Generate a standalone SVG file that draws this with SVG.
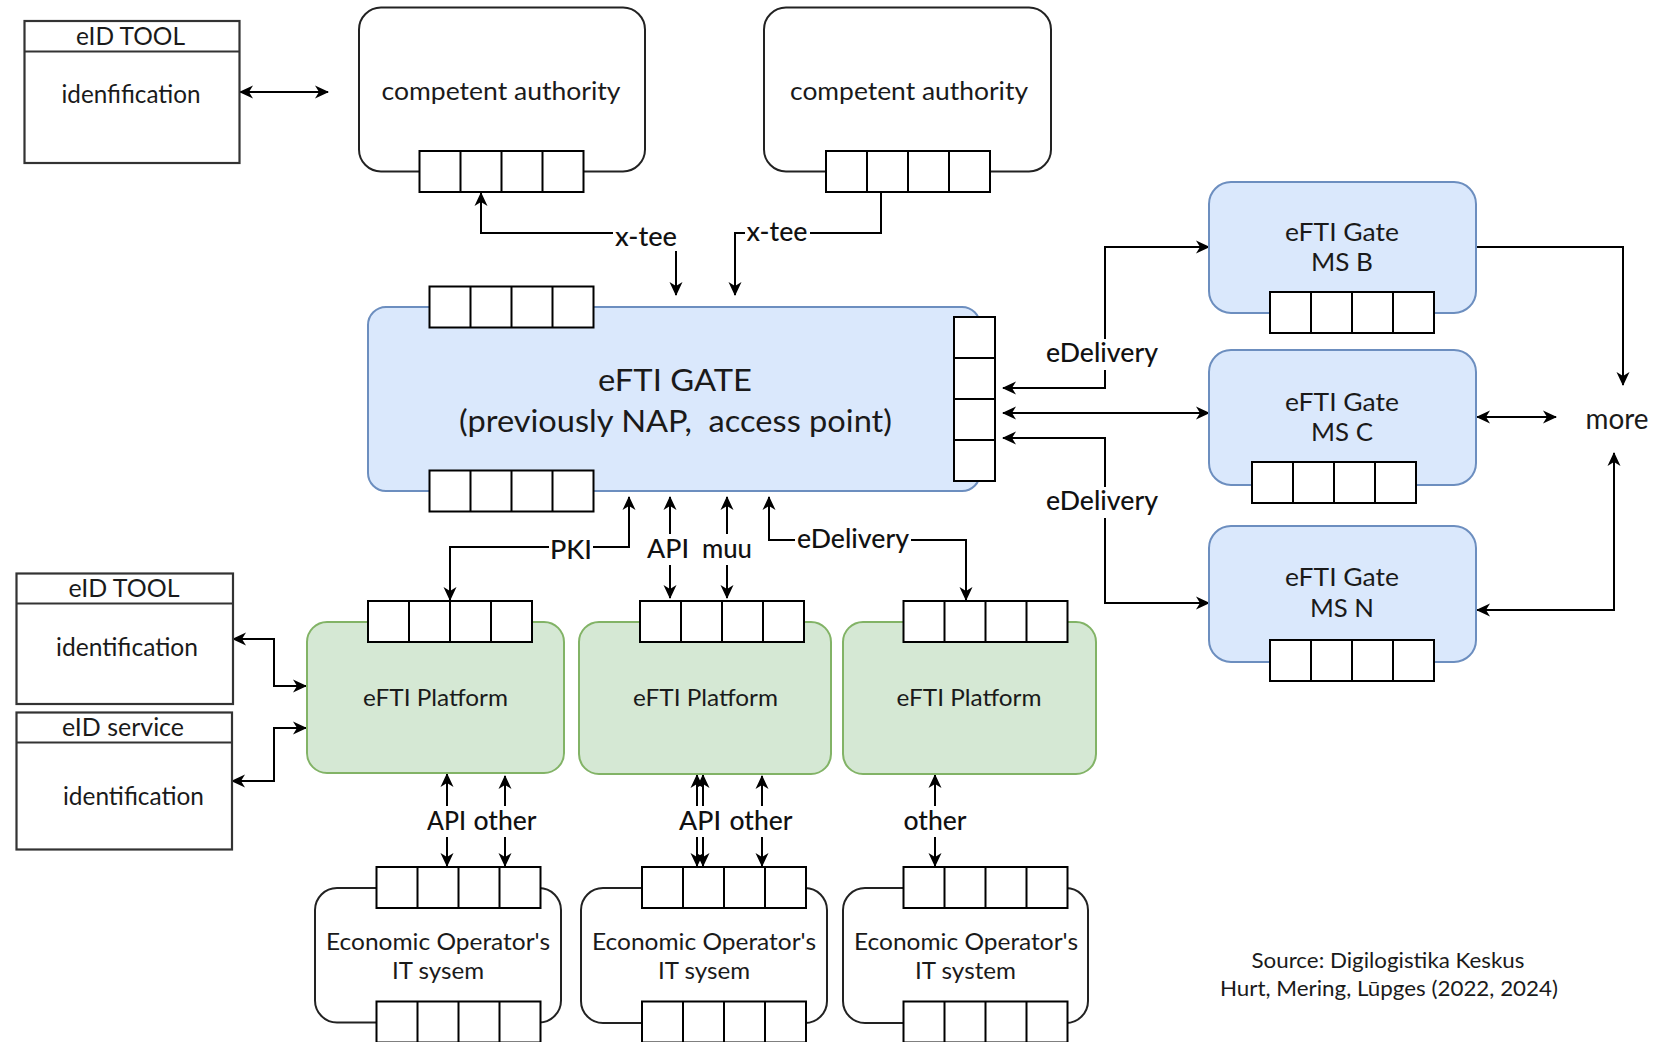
<svg xmlns="http://www.w3.org/2000/svg" xmlns:xlink="http://www.w3.org/1999/xlink" width="1653" height="1042" viewBox="0 0 1653 1042">
<style>
text{font-family:Lato,"Noto Sans","Liberation Sans",sans-serif;fill:#1a1a1a;text-anchor:middle;dominant-baseline:central}
.plain{fill:#fff;stroke:#222;stroke-width:2}
.eid{fill:#fff;stroke:#333;stroke-width:2.2}
.blue{fill:#dae8fc;stroke:#6c8ebf;stroke-width:2}
.green{fill:#d5e8d4;stroke:#82b366;stroke-width:2}
.edge{fill:none;stroke:#000;stroke-width:2}
.both{marker-start:url(#ah);marker-end:url(#ah)}
.end{marker-end:url(#ah)}
.lbg{fill:#fff}
.lbl{font-size:26px;font-weight:500;fill:#111}
.t24{font-size:24.5px}
.t25{font-size:25.5px}
.t23{font-size:23.5px}
.src{font-size:21.5px}
</style>
<defs>
<marker id="ah" markerUnits="userSpaceOnUse" markerWidth="16" markerHeight="14" viewBox="-14 -7 16 14" refX="0" refY="0" orient="auto-start-reverse">
<path d="M1,0 L-13,-6.5 L-9,0 L-13,6.5 Z" fill="#000"/>
</marker>
<g id="hport"><rect x="0" y="0" width="164" height="41" fill="#fff" stroke="#000" stroke-width="2"/><path d="M41,0v41M82,0v41M123,0v41" stroke="#000" stroke-width="2"/></g>
<g id="vport"><rect x="0" y="0" width="41" height="164" fill="#fff" stroke="#000" stroke-width="2"/><path d="M0,41h41M0,82h41M0,123h41" stroke="#000" stroke-width="2"/></g>
</defs>
<rect width="1653" height="1042" fill="#fff"/>

<g id="connectors">
<path class="edge both" d="M240,92 H328"/>
<path class="edge both" d="M481,193 V233 H676 V295"/>
<path class="edge end" d="M881,192 V233 H735 V295"/>
<path class="edge both" d="M1003,388 H1105 V247 H1209"/>
<path class="edge both" d="M1003,413 H1209"/>
<path class="edge both" d="M1003,438 H1105 V603 H1209"/>
<path class="edge end" d="M1476,247 H1623 V385"/>
<path class="edge both" d="M1477,417 H1556"/>
<path class="edge both" d="M1477,610 H1614 V453"/>
<path class="edge both" d="M629,497 V547 H450 V600"/>
<path class="edge both" d="M670,497 V598"/>
<path class="edge both" d="M727,497 V598"/>
<path class="edge both" d="M769,497 V540 H966 V600"/>
<path class="edge both" d="M233,639 H274 V686 H306"/>
<path class="edge both" d="M232,781 H274 V728 H306"/>
<path class="edge both" d="M447,774 V866"/>
<path class="edge both" d="M505,776 V866"/>
<path class="edge both" d="M697,775 V866"/>
<path class="edge both" d="M703,775 V866"/>
<path class="edge both" d="M762,776 V866"/>
<path class="edge both" d="M935,775 V866"/>
<g id="edge-labels">
<rect class="lbg" x="613" y="223" width="65" height="28"/><text class="lbl" x="646" y="236" textLength="62" lengthAdjust="spacingAndGlyphs">x-tee</text>
<rect class="lbg" x="745" y="219" width="65" height="28"/><text class="lbl" x="777" y="231" textLength="61" lengthAdjust="spacingAndGlyphs">x-tee</text>
<rect class="lbg" x="1043" y="339" width="118" height="31"/><text class="lbl" x="1102" y="352" textLength="112" lengthAdjust="spacingAndGlyphs">eDelivery</text>
<rect class="lbg" x="1043" y="487" width="118" height="31"/><text class="lbl" x="1102" y="500" textLength="112" lengthAdjust="spacingAndGlyphs">eDelivery</text>
<rect class="lbg" x="549" y="535" width="44" height="31"/><text class="lbl" x="571" y="549" textLength="42" lengthAdjust="spacingAndGlyphs">PKI</text>
<rect class="lbg" x="646" y="534" width="45" height="31"/><text class="lbl" x="668" y="548" textLength="42" lengthAdjust="spacingAndGlyphs">API</text>
<rect class="lbg" x="700" y="534" width="54" height="31"/><text class="lbl" x="727" y="548" textLength="50" lengthAdjust="spacingAndGlyphs">muu</text>
<rect class="lbg" x="795" y="525" width="116" height="31"/><text class="lbl" x="853" y="538" textLength="112" lengthAdjust="spacingAndGlyphs">eDelivery</text>
<rect class="lbg" x="426" y="806" width="41" height="31"/><text class="lbl" x="446.5" y="820" textLength="39" lengthAdjust="spacingAndGlyphs">API</text>
<rect class="lbg" x="472" y="806" width="66" height="31"/><text class="lbl" x="505" y="820" textLength="63" lengthAdjust="spacingAndGlyphs">other</text>
<rect class="lbg" x="678" y="806" width="44" height="31"/><text class="lbl" x="700" y="820" textLength="42" lengthAdjust="spacingAndGlyphs">API</text>
<rect class="lbg" x="729" y="806" width="65" height="31"/><text class="lbl" x="761" y="820" textLength="63" lengthAdjust="spacingAndGlyphs">other</text>
<rect class="lbg" x="902" y="806" width="66" height="31"/><text class="lbl" x="935" y="820" textLength="63" lengthAdjust="spacingAndGlyphs">other</text>
</g>
</g>

<g id="eid-tool-top">
<rect class="eid" x="24.5" y="21" width="215" height="142"/>
<path d="M24.5,51.5 H239.5" stroke="#333" stroke-width="2.2"/>
<text class="t24" x="130.5" y="35" textLength="109" lengthAdjust="spacingAndGlyphs">eID TOOL</text>
<text class="t24" x="131" y="93" textLength="139" lengthAdjust="spacingAndGlyphs">idenfification</text>
</g>

<g id="competent-authority-1">
<rect class="plain" x="359" y="7.5" width="286" height="164" rx="22"/>
<text class="t25" x="501" y="90" textLength="239" lengthAdjust="spacingAndGlyphs">competent authority</text>
<use xlink:href="#hport" x="419.5" y="151"/>
</g>

<g id="competent-authority-2">
<rect class="plain" x="764" y="7.5" width="287" height="164" rx="22"/>
<text class="t25" x="909" y="90" textLength="238" lengthAdjust="spacingAndGlyphs">competent authority</text>
<use xlink:href="#hport" x="826" y="151"/>
</g>

<g id="efti-gate">
<rect class="blue" x="368" y="307" width="612" height="184" rx="18"/>
<use xlink:href="#hport" x="429.5" y="286.5"/>
<use xlink:href="#hport" x="429.5" y="470.5"/>
<use xlink:href="#vport" x="954" y="317"/>
<text x="675" y="379" style="font-size:31px" textLength="154" lengthAdjust="spacingAndGlyphs">eFTI GATE</text>
<text x="675.5" y="420" style="font-size:31.5px" xml:space="preserve" textLength="433" lengthAdjust="spacingAndGlyphs">(previously NAP,  access point)</text>
</g>

<g id="gate-ms-b">
<rect class="blue" x="1209" y="182" width="267" height="131" rx="22"/>
<text class="t25" x="1342" y="231" textLength="114" lengthAdjust="spacingAndGlyphs">eFTI Gate</text>
<text class="t25" x="1342" y="261" textLength="62" lengthAdjust="spacingAndGlyphs">MS B</text>
<use xlink:href="#hport" x="1270" y="292"/>
</g>

<g id="gate-ms-c">
<rect class="blue" x="1209" y="350" width="267" height="135" rx="22"/>
<text class="t25" x="1342" y="401" textLength="114" lengthAdjust="spacingAndGlyphs">eFTI Gate</text>
<text class="t25" x="1342" y="431" textLength="62" lengthAdjust="spacingAndGlyphs">MS C</text>
<use xlink:href="#hport" x="1252" y="462"/>
</g>

<g id="gate-ms-n">
<rect class="blue" x="1209" y="526" width="267" height="136" rx="22"/>
<text class="t25" x="1342" y="576" textLength="114" lengthAdjust="spacingAndGlyphs">eFTI Gate</text>
<text class="t25" x="1342" y="607" textLength="64" lengthAdjust="spacingAndGlyphs">MS N</text>
<use xlink:href="#hport" x="1270" y="640"/>
</g>

<g id="more">
<text x="1617" y="418" style="font-size:28px" textLength="63" lengthAdjust="spacingAndGlyphs">more</text>
</g>

<g id="eid-tool-bottom">
<rect class="eid" x="16.5" y="573.5" width="216.5" height="130.5"/>
<path d="M16.5,603.5 H233" stroke="#333" stroke-width="2.2"/>
<text class="t24" x="124" y="587.5" textLength="111" lengthAdjust="spacingAndGlyphs">eID TOOL</text>
<text class="t24" x="127" y="646" textLength="142" lengthAdjust="spacingAndGlyphs">identification</text>
</g>

<g id="eid-service">
<rect class="eid" x="16.5" y="712.5" width="215.5" height="137"/>
<path d="M16.5,742.5 H232" stroke="#333" stroke-width="2.2"/>
<text class="t24" x="123" y="726.5" textLength="122" lengthAdjust="spacingAndGlyphs">eID service</text>
<text class="t24" x="133.5" y="795" textLength="141" lengthAdjust="spacingAndGlyphs">identification</text>
</g>

<g id="platform-1">
<rect class="green" x="307" y="622" width="257" height="151" rx="20"/>
<use xlink:href="#hport" x="368" y="601"/>
<text class="t23" x="435.5" y="697" textLength="145" lengthAdjust="spacingAndGlyphs">eFTI Platform</text>
</g>

<g id="platform-2">
<rect class="green" x="579" y="622" width="252" height="152" rx="20"/>
<use xlink:href="#hport" x="640" y="601"/>
<text class="t23" x="705.5" y="697" textLength="145" lengthAdjust="spacingAndGlyphs">eFTI Platform</text>
</g>

<g id="platform-3">
<rect class="green" x="843" y="622" width="253" height="152" rx="20"/>
<use xlink:href="#hport" x="903.5" y="601"/>
<text class="t23" x="969" y="697" textLength="145" lengthAdjust="spacingAndGlyphs">eFTI Platform</text>
</g>

<g id="eo-1">
<rect class="plain" x="315" y="888" width="246" height="134.5" rx="22"/>
<use xlink:href="#hport" x="376.5" y="867"/>
<use xlink:href="#hport" x="376.5" y="1001.5"/>
<text class="t23" x="438" y="941" textLength="224" lengthAdjust="spacingAndGlyphs">Economic Operator's</text>
<text class="t23" x="438" y="970" textLength="92" lengthAdjust="spacingAndGlyphs">IT sysem</text>
</g>

<g id="eo-2">
<rect class="plain" x="581" y="888" width="246" height="135" rx="22"/>
<use xlink:href="#hport" x="642" y="867"/>
<use xlink:href="#hport" x="642" y="1001.5"/>
<text class="t23" x="704" y="941" textLength="224" lengthAdjust="spacingAndGlyphs">Economic Operator's</text>
<text class="t23" x="704" y="970" textLength="92" lengthAdjust="spacingAndGlyphs">IT sysem</text>
</g>

<g id="eo-3">
<rect class="plain" x="843" y="888" width="245" height="135" rx="22"/>
<use xlink:href="#hport" x="903.5" y="867"/>
<use xlink:href="#hport" x="903.5" y="1001.5"/>
<text class="t23" x="966" y="941" textLength="224" lengthAdjust="spacingAndGlyphs">Economic Operator's</text>
<text class="t23" x="965.5" y="970" textLength="101" lengthAdjust="spacingAndGlyphs">IT system</text>
</g>

<g id="source">
<text class="src" x="1388" y="960" textLength="273" lengthAdjust="spacingAndGlyphs">Source: Digilogistika Keskus</text>
<text class="src" x="1389" y="988" textLength="338" lengthAdjust="spacingAndGlyphs">Hurt, Mering, Lūpges (2022, 2024)</text>
</g>
</svg>
